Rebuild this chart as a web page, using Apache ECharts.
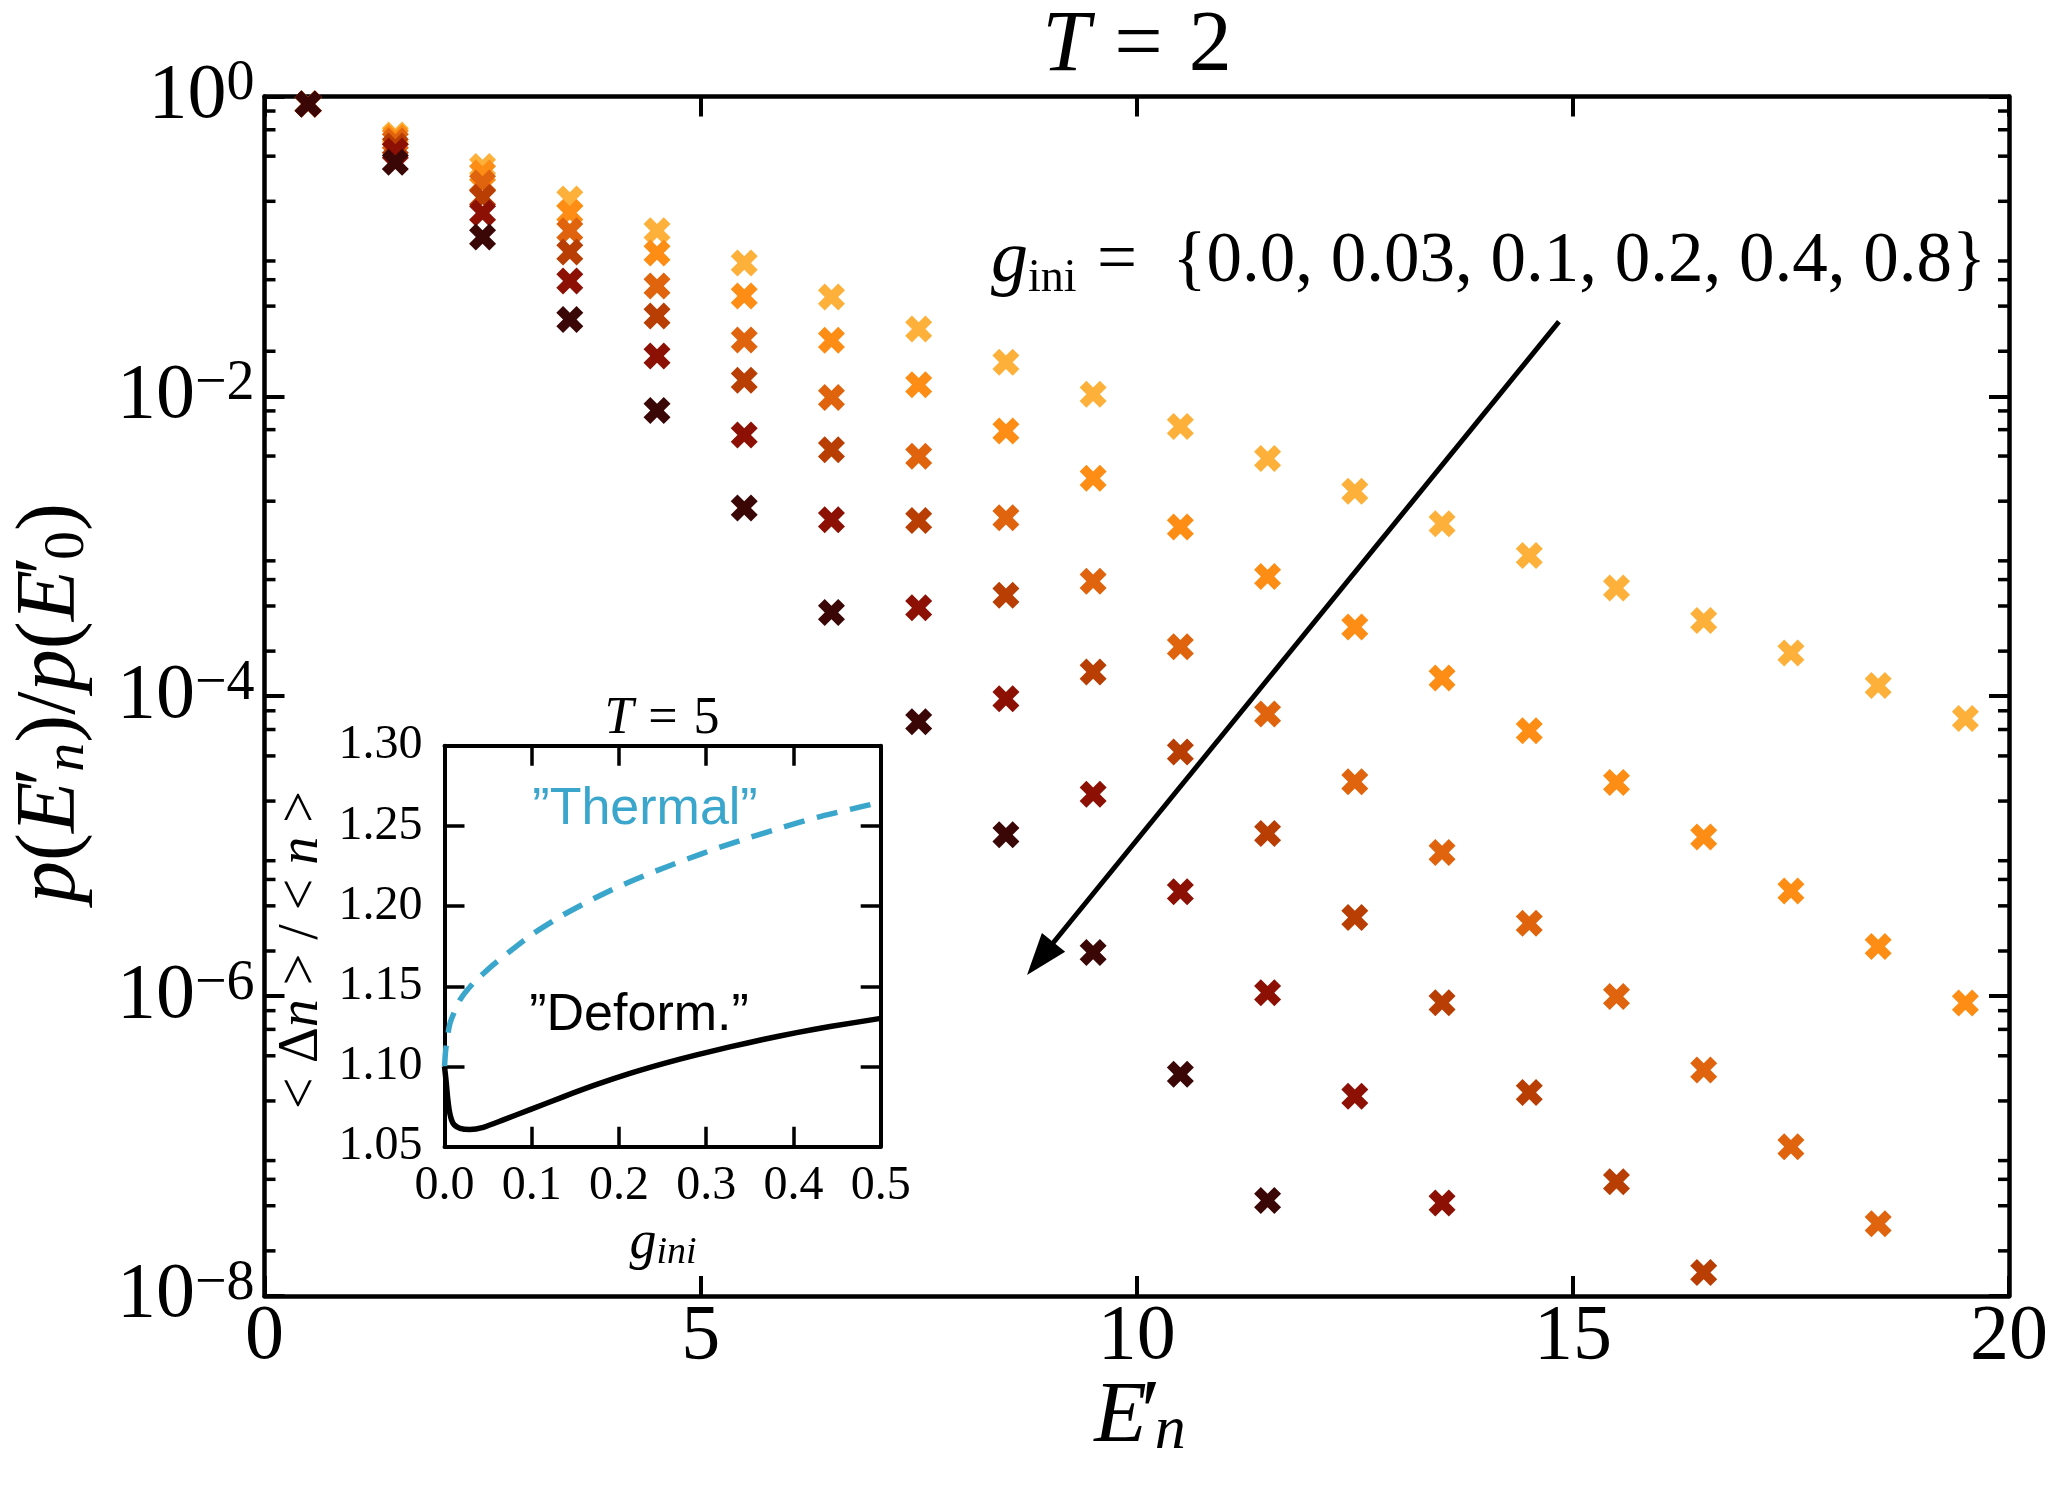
<!DOCTYPE html>
<html>
<head>
<meta charset="utf-8">
<script src="https://cdn.jsdelivr.net/npm/echarts@6/dist/echarts.min.js"></script>
<style>html,body{margin:0;padding:0;background:#fff}#c{width:2062px;height:1501px}</style>
</head>
<body>
<div id="c"></div>
<script>
// ---------------- data ----------------
const E_n = [0.5, 1.5, 2.5, 3.5, 4.5, 5.5, 6.5, 7.5, 8.5, 9.5, 10.5, 11.5, 12.5, 13.5, 14.5, 15.5, 16.5, 17.5, 18.5, 19.5];
const gIniLabels = ['0.0', '0.03', '0.1', '0.2', '0.4', '0.8'];
const p_g000 = [0.89, 0.554, 0.341, 0.207, 0.127, 0.0776, 0.046, 0.0281, 0.0169, 0.01033, 0.00629, 0.00385, 0.00233, 0.001415, 0.000867, 0.000527, 0.00032, 0.000194, 0.000118, 0.0000711];
const p_g003 = [0.89, 0.533, 0.309, 0.168, 0.0904, 0.0467, 0.0237, 0.01196, 0.00588, 0.00284, 0.001346, 0.00063, 0.00029, 0.0001324, 0.0000589, 0.0000266, 0.00001152, 0.00000502, 0.00000214, 0.0000009];
const p_g010 = [0.89, 0.505, 0.265, 0.127, 0.0545, 0.0238, 0.00983, 0.00398, 0.00155, 0.000585, 0.000214, 0.0000762, 0.0000269, 0.00000908, 0.00000306, 9.95e-7, 3.21e-7, 9.91e-8, 3.03e-8, 8.98e-9];
const p_g020 = [0.89, 0.468, 0.212, 0.0918, 0.0344, 0.0128, 0.0044, 0.001484, 0.000471, 0.0001449, 4.25e-5, 1.216e-5, 3.34e-6, 9.04e-7, 2.28e-7, 5.78e-8, 1.435e-8, null, null, null];
const p_g040 = [0.89, 0.433, 0.167, 0.0588, 0.0186, 0.00552, 0.001506, 0.000389, 9.64e-5, 2.22e-5, 4.97e-6, 1.052e-6, 2.15e-7, 4.17e-8, null, null, null, null, null, null];
const p_g080 = [0.89, 0.364, 0.1156, 0.0326, 0.00805, 0.0018, 0.000362, 6.76e-5, 1.194e-5, 1.954e-6, 3.01e-7, 4.34e-8, null, null, null, null, null, null, null, null];
const seriesValues = [p_g000, p_g003, p_g010, p_g020, p_g040, p_g080];
const seriesColors = ['#fdb13a', '#fd8d14', '#e0640e', '#b83e04', '#8c1004', '#3a0606'];

// arrow annotation (data coords: start, tip)
const arrowFrom = [14.84, 0.0315];
const arrowTo = [8.742, 1.384e-6];

// main axis ticks
const xMainTicks = [0, 5, 10, 15, 20];
const yMajorTicks = [1e-8, 1e-6, 1e-4, 1e-2, 1];
const minorSubs = [2, 4, 6, 8];

// inset data
const thermalG = [0, 0.0015, 0.0063, 0.0178, 0.033, 0.056, 0.079, 0.102, 0.136, 0.167, 0.197, 0.236, 0.274, 0.312, 0.350, 0.388, 0.427, 0.465, 0.5];
const thermalV = [1.100, 1.111, 1.127, 1.1415, 1.152, 1.1635, 1.1735, 1.183, 1.1945, 1.2035, 1.2115, 1.2205, 1.2285, 1.2360, 1.2428, 1.2492, 1.2553, 1.2603, 1.2648];
const deformG = [0, 0.002, 0.0035, 0.0055, 0.008, 0.011, 0.0178, 0.029, 0.0445, 0.0674, 0.098, 0.136, 0.1745, 0.2126, 0.2508, 0.289, 0.327, 0.365, 0.4037, 0.442, 0.5];
const deformV = [1.100, 1.090, 1.081, 1.0725, 1.0668, 1.0637, 1.0614, 1.0607, 1.0621, 1.0667, 1.0731, 1.0811, 1.0888, 1.0957, 1.1018, 1.1073, 1.1122, 1.1168, 1.1211, 1.1249, 1.1300];
const insetXTicks = [0.0, 0.1, 0.2, 0.3, 0.4, 0.5];
const insetYTicks = [1.05, 1.10, 1.15, 1.20, 1.25, 1.30];

// ---------------- helpers ----------------
const SERIF = '"Liberation Serif", "DejaVu Serif", serif';
const SANS = '"Liberation Sans", Arial, sans-serif';
const minorTickValues = [];
for (let i = 0; i < yMajorTicks.length - 1; i++) {
  for (let d = 0; d < 2; d++) {
    const base = yMajorTicks[i] * Math.pow(10, d);
    minorSubs.forEach(m => minorTickValues.push([0, m * base]));
  }
}
const X_PATH = 'path://M25,50L0,75L25,100L50,75L75,100L100,75L75,50L100,25L75,0L50,25L25,0L0,25Z';

const scatterSeries = seriesValues.map((vals, i) => ({
  name: 'g_ini = ' + gIniLabels[i],
  type: 'scatter',
  xAxisIndex: 0, yAxisIndex: 0,
  symbol: X_PATH,
  symbolSize: 27,
  itemStyle: { color: seriesColors[i], opacity: 1 },
  data: E_n.map((x, k) => [x, vals[k]]).filter(d => d[1] != null),
  clip: true,
  silent: true,
  z: 3
}));

const axisLineStyle = { color: '#000', width: 4.5 };
const majorTick = { inside: true, length: 20, lineStyle: { color: '#000', width: 4 } };
const insetLine = { onZero: false, lineStyle: { color: '#000', width: 4 } };
const insetTick = { inside: true, length: 20, lineStyle: { color: '#000', width: 3.5 } };

const option = {
  animation: false,
  backgroundColor: '#fff',
  grid: [
    { left: 264.5, top: 96.5, width: 1744.5, height: 1199.5, containLabel: false, outerBoundsMode: 'none' },
    { left: 444.5, top: 745.7, width: 436.2, height: 401, containLabel: false, outerBoundsMode: 'none' }
  ],
  xAxis: [
    { gridIndex: 0, type: 'value', min: 0, max: 20, interval: 5, position: 'bottom',
      axisLine: { onZero: false, lineStyle: axisLineStyle }, axisTick: majorTick,
      splitLine: { show: false }, minorTick: { show: false },
      axisLabel: { show: true, showMinLabel: true, showMaxLabel: true, margin: 3,
        fontFamily: SERIF, fontSize: 78, lineHeight: 78, color: '#000',
        customValues: xMainTicks, formatter: v => String(v) } },
    { gridIndex: 0, type: 'value', min: 0, max: 20, interval: 5, position: 'top',
      axisLine: { onZero: false, lineStyle: axisLineStyle }, axisTick: majorTick,
      splitLine: { show: false }, axisLabel: { show: false } },
    { gridIndex: 1, type: 'value', min: 0, max: 0.5, interval: 0.1, position: 'bottom',
      axisLine: insetLine, axisTick: insetTick, splitLine: { show: false },
      axisLabel: { show: true, showMinLabel: true, showMaxLabel: true, margin: 16,
        fontFamily: SERIF, fontSize: 48, lineHeight: 48, color: '#000',
        customValues: insetXTicks, formatter: v => v.toFixed(1) } },
    { gridIndex: 1, type: 'value', min: 0, max: 0.5, interval: 0.1, position: 'top',
      axisLine: insetLine, axisTick: insetTick, splitLine: { show: false }, axisLabel: { show: false } }
  ],
  yAxis: [
    { gridIndex: 0, type: 'log', logBase: 10, min: 1e-8, max: 1, position: 'left',
      axisLine: { onZero: false, lineStyle: axisLineStyle },
      axisTick: Object.assign({ customValues: yMajorTicks }, majorTick),
      splitLine: { show: false }, minorTick: { show: false },
      axisLabel: { show: true, showMinLabel: true, showMaxLabel: true, margin: 10,
        customValues: yMajorTicks,
        formatter: v => {
          const e = Math.round(Math.log10(v));
          return '{b|10}{s|' + (e < 0 ? '\u2212' + (-e) : String(e)) + '}';
        },
        rich: {
          b: { fontFamily: SERIF, fontSize: 78, lineHeight: 80, color: '#000' },
          s: { fontFamily: SERIF, fontSize: 56, lineHeight: 42, verticalAlign: 'top', color: '#000' }
        } } },
    { gridIndex: 0, type: 'log', logBase: 10, min: 1e-8, max: 1, position: 'right',
      axisLine: { onZero: false, lineStyle: axisLineStyle },
      axisTick: Object.assign({ customValues: yMajorTicks }, majorTick),
      splitLine: { show: false }, axisLabel: { show: false } },
    { gridIndex: 1, type: 'value', min: 1.05, max: 1.30, interval: 0.05, position: 'left',
      axisLine: insetLine, axisTick: insetTick, splitLine: { show: false },
      axisLabel: { show: true, showMinLabel: true, showMaxLabel: true, margin: 22,
        fontFamily: SERIF, fontSize: 48, lineHeight: 48, color: '#000',
        customValues: insetYTicks, formatter: v => v.toFixed(2) } },
    { gridIndex: 1, type: 'value', min: 1.05, max: 1.30, interval: 0.05, position: 'right',
      axisLine: insetLine, axisTick: insetTick, splitLine: { show: false }, axisLabel: { show: false } }
  ],
  series: [
    ...scatterSeries,
    { name: 'minorTicks', type: 'custom', xAxisIndex: 0, yAxisIndex: 0, silent: true, clip: false, z: 4,
      data: minorTickValues, encode: { x: 0, y: 1 },
      renderItem: (params, api) => {
        const y = api.coord([0, api.value(1)])[1];
        const cs = params.coordSys;
        const st = { stroke: '#000', lineWidth: 3.5 };
        return { type: 'group', children: [
          { type: 'line', shape: { x1: cs.x, y1: y, x2: cs.x + 11, y2: y }, style: st },
          { type: 'line', shape: { x1: cs.x + cs.width - 11, y1: y, x2: cs.x + cs.width, y2: y }, style: st }
        ] };
      } },
    { name: 'arrow', type: 'custom', xAxisIndex: 0, yAxisIndex: 0, silent: true, clip: false, z: 5,
      data: [[arrowFrom[0], arrowFrom[1], arrowTo[0], arrowTo[1]]], encode: { x: [0, 2], y: [1, 3] },
      renderItem: (params, api) => {
        const p1 = api.coord([api.value(0), api.value(1)]);
        const p2 = api.coord([api.value(2), api.value(3)]);
        const dx = p2[0] - p1[0], dy = p2[1] - p1[1];
        const L = Math.hypot(dx, dy), ux = dx / L, uy = dy / L;
        const hl = 42, hw = 15;
        const bx = p2[0] - ux * hl, by = p2[1] - uy * hl;
        return { type: 'group', children: [
          { type: 'line', shape: { x1: p1[0], y1: p1[1], x2: bx + ux * 6, y2: by + uy * 6 }, style: { stroke: '#000', lineWidth: 5 } },
          { type: 'polygon', shape: { points: [[p2[0], p2[1]], [bx - uy * hw, by + ux * hw], [bx + uy * hw, by - ux * hw]] }, style: { fill: '#000' } }
        ] };
      } },
    { name: 'Thermal', type: 'line', xAxisIndex: 2, yAxisIndex: 2, showSymbol: false, silent: true,
      smooth: 0.2, z: 6,
      data: thermalG.map((g, i) => [g, thermalV[i]]),
      lineStyle: { color: '#3aa6cc', width: 5.5, type: [21, 13], cap: 'butt' } },
    { name: 'Deform.', type: 'line', xAxisIndex: 2, yAxisIndex: 2, showSymbol: false, silent: true,
      smooth: 0.2, z: 6,
      data: deformG.map((g, i) => [g, deformV[i]]),
      lineStyle: { color: '#000', width: 5.5, join: 'round' } }
  ],
  graphic: [
    // main title  T = 2
    { type: 'text', x: 1137, y: 47, silent: true, style: {
      text: '{i|T}{n|=}{d|2}', align: 'center', verticalAlign: 'middle',
      rich: { i: { fontFamily: SERIF, fontStyle: 'italic', fontSize: 86, fill: '#000' },
              n: { fontFamily: SERIF, fontSize: 86, fill: '#000', padding: [0, 0, 0, 24] },
              d: { fontFamily: SERIF, fontSize: 86, fill: '#000', padding: [0, 0, 0, 26] } } } },
    // g_ini annotation (symbol part)
    { type: 'text', x: 991, y: 262, silent: true, style: {
      text: '{g|g}{s|ini}', align: 'left', verticalAlign: 'middle',
      rich: { g: { fontFamily: SERIF, fontStyle: 'italic', fontSize: 74, lineHeight: 80, fill: '#000' },
              s: { fontFamily: SERIF, fontSize: 46, lineHeight: 46, verticalAlign: 'bottom', fill: '#000' } } } },
    // g_ini annotation (value list, plain text)
    { type: 'text', x: 1097, y: 262, silent: true, style: {
      text: '=  {' + gIniLabels.join(', ') + '}', fontFamily: SERIF, fontSize: 71, fill: '#000',
      align: 'left', verticalAlign: 'middle' } },
    // x axis title
    { type: 'text', x: 1140, y: 1418, silent: true, style: {
      text: '{e|E}{p|\u2032}{n|n}', align: 'center', verticalAlign: 'middle',
      rich: { e: { fontFamily: SERIF, fontStyle: 'italic', fontSize: 86, lineHeight: 90, fill: '#000' },
              p: { fontFamily: SERIF, fontSize: 90, lineHeight: 60, verticalAlign: 'top', width: 8, align: 'left', fill: '#000' },
              n: { fontFamily: SERIF, fontStyle: 'italic', fontSize: 62, lineHeight: 46, verticalAlign: 'bottom', fill: '#000' } } } },
    // y axis title
    { type: 'text', x: 52, y: 703, rotation: Math.PI / 2, silent: true, style: {
      text: '{i|p}{u|(}{i|E}{p|\u2032}{s|n}{u|)/}{i|p}{u|(}{i|E}{p|\u2032}{z|0}{u|)}', align: 'center', verticalAlign: 'middle',
      rich: { i: { fontFamily: SERIF, fontStyle: 'italic', fontSize: 84, lineHeight: 90, fill: '#000' },
              u: { fontFamily: SERIF, fontSize: 84, lineHeight: 90, fill: '#000' },
              p: { fontFamily: SERIF, fontSize: 86, lineHeight: 60, verticalAlign: 'top', width: 10, align: 'left', fill: '#000' },
              s: { fontFamily: SERIF, fontStyle: 'italic', fontSize: 58, lineHeight: 46, verticalAlign: 'bottom', fill: '#000' },
              z: { fontFamily: SERIF, fontSize: 58, lineHeight: 46, verticalAlign: 'bottom', fill: '#000' } } } },
    // inset title  T = 5
    { type: 'text', x: 662, y: 719, silent: true, style: {
      text: '{i|T}{n|=}{d|5}', align: 'center', verticalAlign: 'middle',
      rich: { i: { fontFamily: SERIF, fontStyle: 'italic', fontSize: 52, fill: '#000' },
              n: { fontFamily: SERIF, fontSize: 52, fill: '#000', padding: [0, 0, 0, 15] },
              d: { fontFamily: SERIF, fontSize: 52, fill: '#000', padding: [0, 0, 0, 16] } } } },
    // inset x name
    { type: 'text', x: 663, y: 1244, silent: true, style: {
      text: '{g|g}{s|ini}', align: 'center', verticalAlign: 'middle',
      rich: { g: { fontFamily: SERIF, fontStyle: 'italic', fontSize: 54, lineHeight: 56, fill: '#000' },
              s: { fontFamily: SERIF, fontStyle: 'italic', fontSize: 38, lineHeight: 38, verticalAlign: 'bottom', fill: '#000' } } } },
    // inset y name
    { type: 'text', x: 302, y: 950, rotation: Math.PI / 2, silent: true, style: {
      text: '{u|< \u0394}{i|n}{u| > / < }{i|n}{u| >}', align: 'center', verticalAlign: 'middle',
      rich: { u: { fontFamily: SERIF, fontSize: 56, fill: '#000' },
              i: { fontFamily: SERIF, fontStyle: 'italic', fontSize: 56, fill: '#000' } } } },
    // inset annotations
    { type: 'text', x: 645, y: 810, silent: true, style: {
      text: '\u201DThermal\u201D', fontFamily: SANS, fontSize: 52, fill: '#3aa6cc', align: 'center', verticalAlign: 'middle' } },
    { type: 'text', x: 639, y: 1016, silent: true, style: {
      text: '\u201DDeform.\u201D', fontFamily: SANS, fontSize: 52, fill: '#000', align: 'center', verticalAlign: 'middle' } }
  ]
};

const chart = echarts.init(document.getElementById('c'), null, { renderer: 'canvas', width: 2062, height: 1501 });
chart.setOption(option);
</script>
</body>
</html>
